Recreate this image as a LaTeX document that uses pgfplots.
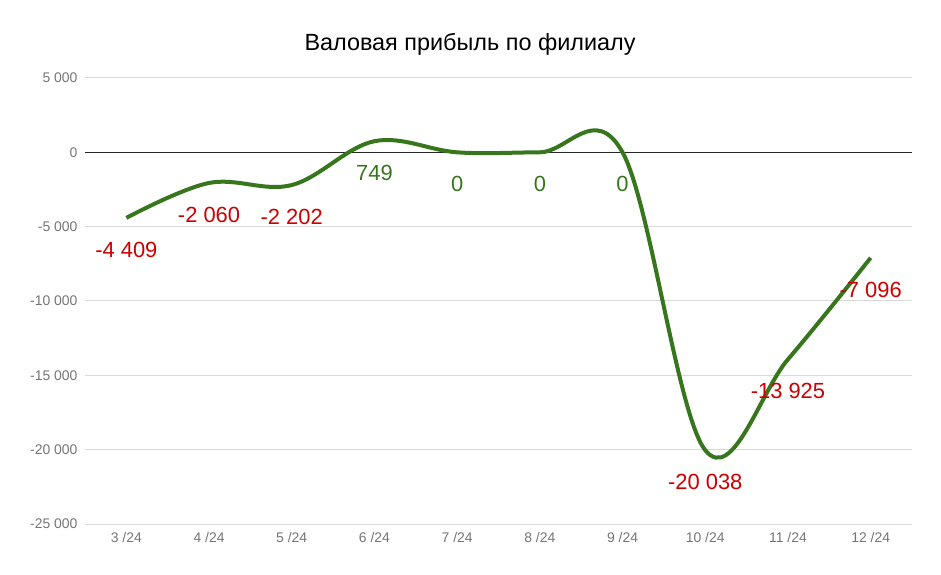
\documentclass[border=0pt]{standalone}
\usepackage{pgfplots}
\pgfplotsset{compat=1.18}
\usepackage{fontspec}
\setmainfont{Liberation Sans}
\definecolor{lineg}{HTML}{38761D}
\definecolor{labr}{HTML}{CC0000}
\definecolor{tickg}{HTML}{757575}
\definecolor{gridc}{HTML}{D9D9D9}
\begin{document}
\begin{tikzpicture}
\path[use as bounding box] (-85bp,-51bp) rectangle (856bp,524bp);
\begin{axis}[
  scale only axis, width=827bp, height=446bp,
  xmin=-0.5, xmax=9.5, ymin=-25000, ymax=5000,
  xtick={0,...,9},
  xticklabels={3 /24,4 /24,5 /24,6 /24,7 /24,8 /24,9 /24,10 /24,11 /24,12 /24},
  ytick={-25000,-20000,...,5000},
  scaled ticks=false,
  axis line style={draw=none}, major tick length=0pt,
  ymajorgrids, grid style={gridc, line width=1bp},
  tick label style={font=\fontsize{14}{16}\selectfont, text=tickg},
  /pgf/number format/assume math mode=true,
  /pgf/number format/1000 sep={\ },
  yticklabel style={xshift=-4bp},
  xticklabel style={yshift=-5bp},
  extra y ticks={0}, extra y tick labels={},
  extra y tick style={grid style={black!85, line width=1bp}},
  clip=false,
]
\addplot[lineg, line width=4bp, smooth, tension=0.6] coordinates {
 (0,-4409) (1,-2060) (2,-2202) (3,749) (4,0) (5,0) (6,0) (7,-20038) (8,-13925) (9,-7096)};
\addplot[draw=none, nodes near coords,
  every node near coord/.append style={anchor=center, yshift=-32bp, text=labr, font=\fontsize{22}{24}\selectfont}]
  coordinates {(0,-4409) (1,-2060) (2,-2202) (7,-20038) (8,-13925) (9,-7096)};
\addplot[draw=none, nodes near coords,
  every node near coord/.append style={anchor=center, yshift=-32bp, text=lineg, font=\fontsize{22}{24}\selectfont}]
  coordinates {(3,749) (4,0) (5,0) (6,0)};
\end{axis}
\node[font=\fontsize{23.5}{26}\selectfont] at (385bp,480bp) {Валовая прибыль по филиалу};
\end{tikzpicture}
\end{document}
